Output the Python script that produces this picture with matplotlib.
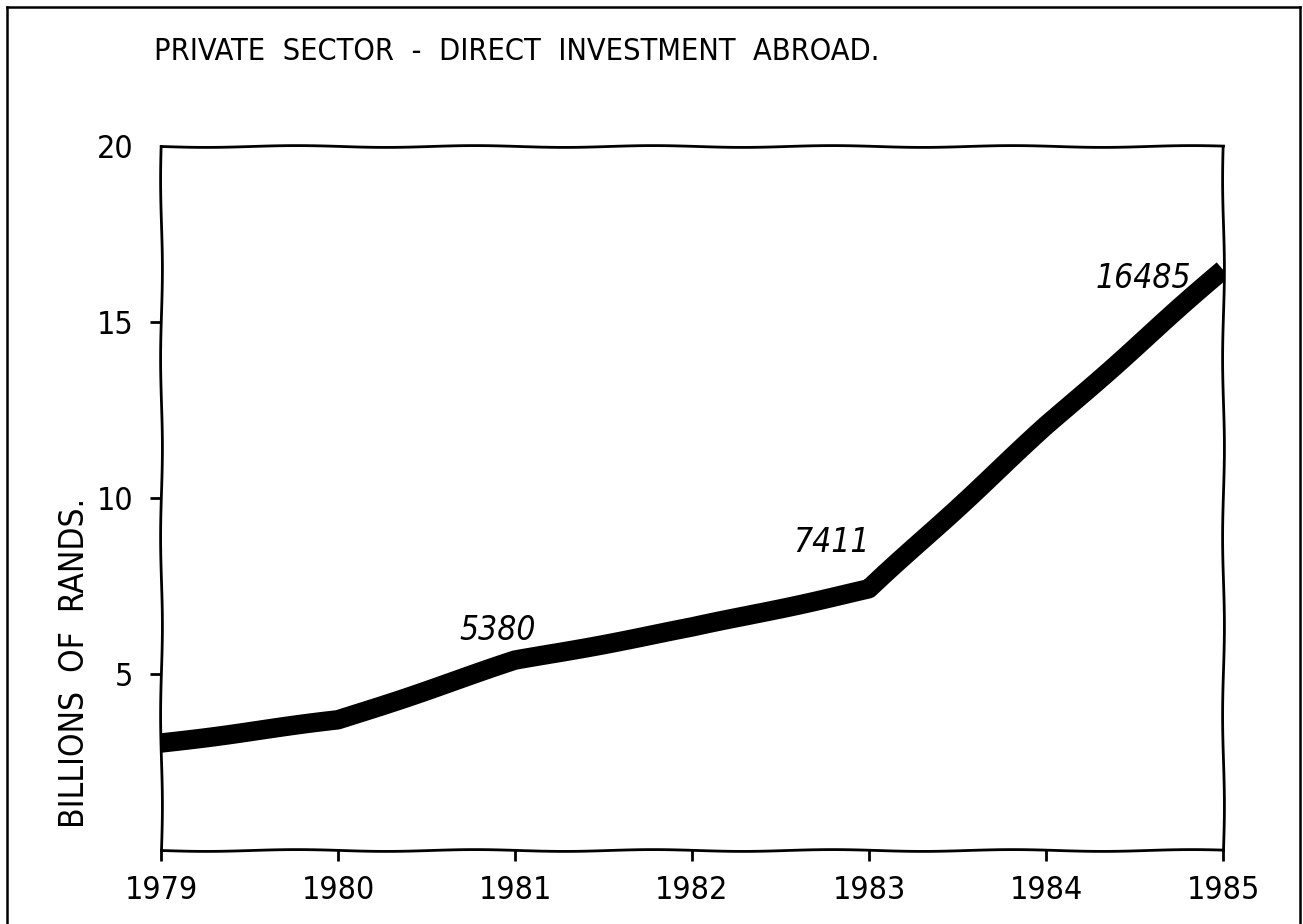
import matplotlib
matplotlib.use("Agg")
import matplotlib.pyplot as plt
from matplotlib.lines import Line2D

# Direct investment abroad by the private sector, billions of rands
years = [1979, 1980, 1981, 1982, 1983, 1984, 1985]
investment = [3.04, 3.69, 5.380, 6.32, 7.411, 12.04, 16.485]

# Hand-written value notes (text, x, y in data units)
note_texts = ["5380", "7411", "16485"]
note_x = [1980.90, 1982.79, 1984.55]
note_y = [6.25, 8.75, 16.23]

x_ticks = [1979, 1980, 1981, 1982, 1983, 1984, 1985]
x_tick_labels = ["1979", "1980", "1981", "1982", "1983", "1984", "1985"]
y_ticks = [5, 10, 15, 20]
y_tick_labels = ["5", "10", "15", "20"]

title_text = "PRIVATE  SECTOR  -  DIRECT  INVESTMENT  ABROAD."
ylabel_text = "BILLIONS  OF  RANDS."

plt.rcParams["font.family"] = ["DejaVu Sans"]
plt.rcParams["font.stretch"] = "condensed"
plt.rcParams["path.sketch"] = (0.9, 180, 1.1)

fig = plt.figure(figsize=(13.03, 9.24), dpi=100)
W, H = 1303, 924
ax = fig.add_axes([161 / W, 1 - 850 / H, (1223 - 161) / W, (850 - 146) / H])

line, = ax.plot(years, investment, color="black", lw=14,
                solid_capstyle="butt", solid_joinstyle="round")
line.set_sketch_params(0.6, 200, 0.8)

ax.set_xlim(1979, 1985)
ax.set_ylim(0, 20)

ax.set_xticks(x_ticks)
ax.set_xticklabels(x_tick_labels)
ax.set_yticks(y_ticks)
ax.set_yticklabels(y_tick_labels)

for s in ax.spines.values():
    s.set_linewidth(2.0)
    s.set_color("black")

ax.tick_params(axis="both", direction="out", length=8, width=2,
               labelsize=23, colors="black")
ax.tick_params(axis="x", pad=10)
ax.tick_params(axis="y", pad=12)
# no tick mark at the top of the value axis
ax.yaxis.get_major_ticks()[-1].tick1line.set_visible(False)

for t, xv, yv in zip(note_texts, note_x, note_y):
    ax.text(xv, yv, t, fontsize=24, fontstyle="italic",
            ha="center", va="center", color="black")

fig.text(154 / W, 1 - 52 / H, title_text, fontsize=22, ha="left",
         va="center", color="black")
fig.text(75 / W, 1 - 663 / H, ylabel_text, fontsize=24, rotation=90,
         ha="center", va="center", color="black")

# page border on three sides
for xs, ys in [([7 / W, 7 / W], [0, 1 - 7 / H]),
               ([7 / W, 1300 / W], [1 - 7 / H, 1 - 7 / H]),
               ([1300 / W, 1300 / W], [0, 1 - 7 / H])]:
    ln = Line2D(xs, ys, transform=fig.transFigure, color="black", lw=1.8)
    ln.set_sketch_params(None)
    fig.add_artist(ln)

fig.savefig("out.png", dpi=100, facecolor="white")
